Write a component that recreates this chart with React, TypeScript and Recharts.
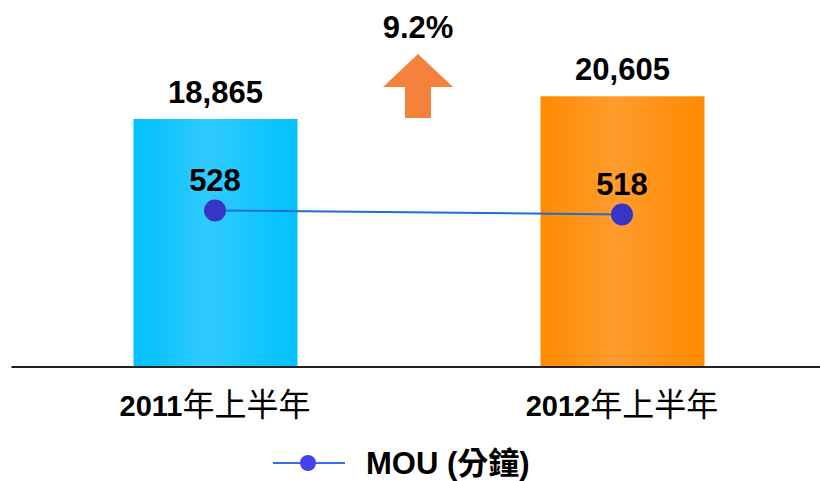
import { ComposedChart, Bar, Line, XAxis, YAxis, Legend, LabelList, Cell } from 'recharts';

const periods = ['2011年上半年', '2012年上半年'];
const revenue = [18865, 20605];
const mou = [528, 518];

const data = periods.map((period, i) => ({
  period,
  revenue: revenue[i],
  mou: mou[i],
}));

const growth = ((revenue[1] / revenue[0] - 1) * 100).toFixed(1) + '%';

const FONT = '"Liberation Sans", Arial, "Noto Sans CJK TC", sans-serif';
const barColors = ['url(#gradBlue)', 'url(#gradOrange)'];

function PeriodTick({ x, y, payload }: any) {
  const value: string = payload.value;
  const digits = value.slice(0, 4);
  const rest = value.slice(4);
  return (
    <text x={x} y={y + 41} textAnchor="middle" fill="#000" fontFamily={FONT}>
      <tspan fontSize={29} fontWeight="bold">{digits}</tspan>
      <tspan fontSize={32}>{rest}</tspan>
    </text>
  );
}

function MouLegend() {
  return (
    <svg width={820} height={36} style={{ display: 'block' }}>
      <line x1={273} y1={18} x2={345} y2={18} stroke="#3a6cf0" strokeWidth={2} />
      <circle cx={308} cy={18} r={8} fill="#4242ee" />
      <text x={366} y={29} fontFamily={FONT} fontSize={31} fontWeight="bold" fill="#000">
        MOU (分鐘)
      </text>
    </svg>
  );
}

export default function App() {
  return (
    <div style={{ position: 'fixed', left: 0, top: 0, width: 820, height: 481, overflow: 'hidden', background: '#fff' }}>
      <ComposedChart
        width={830}
        height={481}
        data={data}
        margin={{ top: 20, right: 4.5, left: 11.5, bottom: 0 }}
        style={{ fontFamily: FONT }}
      >
        <defs>
          <linearGradient id="gradBlue" x1="0" y1="0" x2="1" y2="0">
            <stop offset="0%" stopColor="#00c0ff" />
            <stop offset="45%" stopColor="#30cbff" />
            <stop offset="100%" stopColor="#00c2ff" />
          </linearGradient>
          <linearGradient id="gradOrange" x1="0" y1="0" x2="1" y2="0">
            <stop offset="0%" stopColor="#ff8a00" />
            <stop offset="45%" stopColor="#ff9c2e" />
            <stop offset="100%" stopColor="#ff8a00" />
          </linearGradient>
        </defs>
        <XAxis
          dataKey="period"
          height={78}
          tickLine={false}
          axisLine={{ stroke: '#222', strokeWidth: 2 }}
          tick={<PeriodTick />}
          interval={0}
        />
        <YAxis yAxisId="left" hide domain={[0, 26400]} />
        <YAxis yAxisId="right" hide orientation="right" domain={[140, 1000]} />
        <Legend
          verticalAlign="bottom"
          content={<MouLegend />}
          wrapperStyle={{ left: 0, top: 445, bottom: 'auto', width: 820, height: 36 }}
        />
        <Bar yAxisId="left" dataKey="revenue" barSize={164} isAnimationActive={false} legendType="none">
          {data.map((_, i) => (
            <Cell key={i} fill={barColors[i]} />
          ))}
          <LabelList
            dataKey="revenue"
            position="top"
            offset={16}
            formatter={(v: any) => Number(v).toLocaleString('en-US')}
            style={{ fontSize: 31, fontWeight: 'bold', fill: '#000', fontFamily: FONT }}
          />
        </Bar>
        <Line
          yAxisId="right"
          dataKey="mou"
          name="MOU (分鐘)"
          stroke="#1a6fd0"
          strokeWidth={2}
          dot={{ r: 11, fill: '#3535c8', stroke: 'none' }}
          activeDot={false}
          isAnimationActive={false}
        >
          <LabelList
            dataKey="mou"
            position="top"
            offset={19}
            style={{ fontSize: 31, fontWeight: 'bold', fill: '#000', fontFamily: FONT }}
          />
        </Line>
      </ComposedChart>
      <svg width={820} height={481} style={{ position: 'absolute', left: 0, top: 0, pointerEvents: 'none' }}>
        <text x={418} y={38} textAnchor="middle" fontSize={31} fontWeight="bold" fontFamily={FONT} fill="#000">
          {growth}
        </text>
        <polygon points="418,54 453,87 431,87 431,118 405,118 405,87 383,87" fill="#f5823c" />
      </svg>
    </div>
  );
}
